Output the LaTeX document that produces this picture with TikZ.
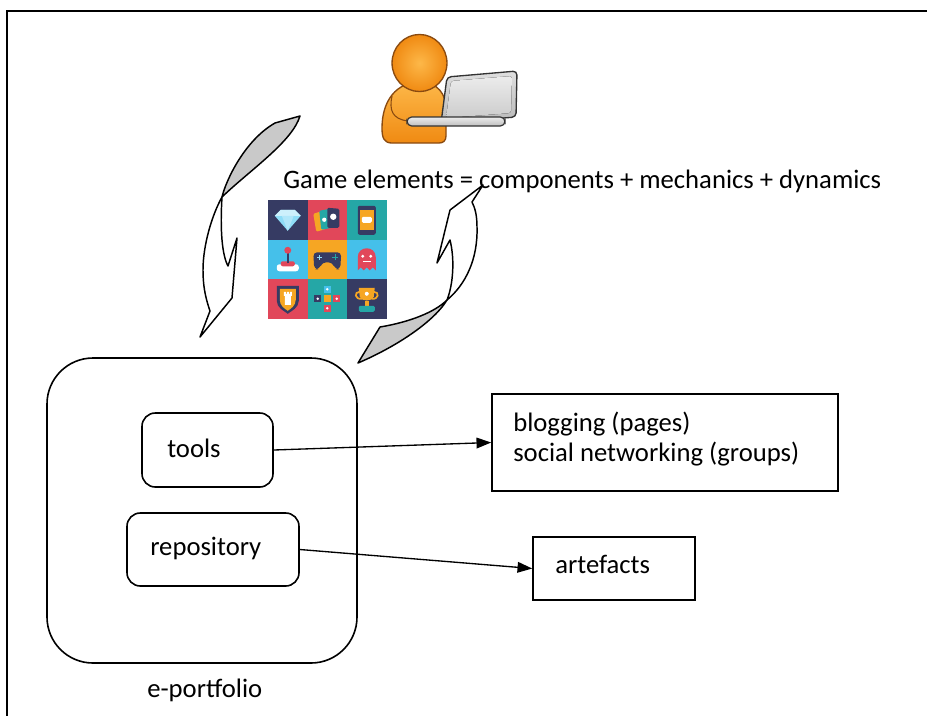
\documentclass[tikz,border=0pt]{standalone}
\usepackage{fontspec}
\setmainfont{Carlito}
\usetikzlibrary{arrows.meta}

\definecolor{personLight}{HTML}{FDB849}
\definecolor{personDark}{HTML}{F08A12}
\definecolor{personEdge}{HTML}{8A4A10}
\definecolor{twistGray}{HTML}{C9C9C9}
\definecolor{gNavy}{HTML}{363B63}
\definecolor{gRed}{HTML}{E1475A}
\definecolor{gTeal}{HTML}{25A7A6}
\definecolor{gSky}{HTML}{45C0EA}
\definecolor{gOrange}{HTML}{F6A623}
\definecolor{gIce}{HTML}{8FDDF8}

\begin{document}
\begin{tikzpicture}[x=0.75pt,y=-0.75pt,
  box/.style={draw=black, line width=1.2pt, inner sep=0pt},
  rbox/.style={box, rounded corners=10pt},
  lbl/.style={inner sep=0pt, anchor=base west, font=\fontsize{20}{23}\selectfont},
  conn/.style={line width=1pt, -{Triangle[length=11pt,width=8pt]}},
  twist/.style={draw=black, line width=1.1pt, line join=round},
]
\useasboundingbox (0,0) rectangle (927,715);
\clip (0,0) rectangle (927,715);
\fill[white] (0,0) rectangle (927,715);

% page frame
\draw[line width=1.3pt] (940,11) -- (7,11) -- (7,730);

% ---- user with laptop ----
\draw[draw=personEdge, line width=1pt, top color=personLight, bottom color=personDark]
  (392,143) .. controls (384,143) and (382,138) .. (382,128)
  .. controls (382,100) and (397,82) .. (420,82)
  .. controls (438,82) and (446,95) .. (446,108) -- (446,136)
  .. controls (446,141) and (443,143) .. (439,143) -- cycle;
\draw[personEdge, line width=0.8pt] (392,96) .. controls (389,110) and (392,119) .. (408,121);
\draw[draw=personEdge, line width=1pt, inner color=personLight, outer color=personDark]
  (419.5,63) ellipse [x radius=20.6pt, y radius=21.4pt];
\draw[draw=gray!40!black, line width=1pt, rounded corners=3pt, top color=gray!25, bottom color=gray!55]
  (447,77) -- (517,71) -- (516,117) -- (441,123) -- cycle;
\fill[top color=gray!15, bottom color=gray!40, rounded corners=2pt]
  (451,81) -- (512,76) -- (511,113) -- (446,118) -- cycle;
\draw[draw=gray!40!black, line width=0.9pt, rounded corners=3.5pt, top color=gray!15, bottom color=gray!50]
  (407,117) -- (505,117) -- (505,126) -- (407,126) -- cycle;

% ---- twisted cycle arrows ----
% left arrow: grey twisted tail, then white shaft and head
\filldraw[twist, fill=twistGray]
  (275,123) -- (300,116) .. controls (292,142) and (250,170) .. (222,197)
  .. controls (226,180) and (245,140) .. (275,123) -- cycle;
\filldraw[twist, fill=white]
  (222,197) .. controls (212,215) and (203,245) .. (203,270)
  .. controls (203,290) and (207,302) .. (210,311) -- (200,337) -- (232,298) -- (237,238)
  -- (228,266) .. controls (222,255) and (220,230) .. (222,197) -- cycle;
% right arrow: white head and shaft, then grey twisted tail
\filldraw[twist, fill=white]
  (483,185) -- (450,210) -- (437,263) -- (450,240)
  .. controls (455,260) and (453,285) .. (447,300)
  .. controls (465,285) and (478,260) .. (477,227)
  .. controls (477,215) and (475,208) .. (472,202) -- cycle;
\filldraw[twist, fill=twistGray]
  (447,300) .. controls (435,312) and (410,322) .. (380,327) -- (358,363)
  .. controls (400,345) and (435,320) .. (447,300) -- cycle;

% ---- game element icons (3x3 tiles) ----
\fill[gNavy]   (268,200) rectangle (307.5,239.5);
\fill[gRed]    (307.5,200) rectangle (347,239.5);
\fill[gTeal]   (347,200) rectangle (386.5,239.5);
\fill[gSky]    (268,239.5) rectangle (307.5,279);
\fill[gOrange] (307.5,239.5) rectangle (347,279);
\fill[gSky]    (347,239.5) rectangle (386.5,279);
\fill[gRed]    (268,279) rectangle (307.5,318.5);
\fill[gTeal]   (307.5,279) rectangle (347,318.5);
\fill[gNavy]   (347,279) rectangle (386.5,318.5);
% diamond
\begin{scope}[shift={(287.75,219.75)}]
  \fill[gIce] (-13,-4) -- (-7,-10) -- (7,-10) -- (13,-4) -- (0,11) -- cycle;
  \fill[white!55!gIce] (-13,-4) -- (-7,-10) -- (7,-10) -- (13,-4) -- cycle;
  \fill[white!30!gIce] (-6,-4) -- (6,-4) -- (0,11) -- cycle;
\end{scope}
% cards
\begin{scope}[shift={(327.25,219.75)}]
  \fill[gOrange, rounded corners=1pt] (-14,-6) -- (-4,-9) -- (-1,9) -- (-11,12) -- cycle;
  \fill[gTeal, rounded corners=1pt] (-8,-9) -- (3,-11) -- (5,8) -- (-6,10) -- cycle;
  \fill[gNavy, rounded corners=1pt] (0,-12) -- (12,-11) -- (12,8) -- (0,8) -- cycle;
  \fill[white] (6,-3) circle (2.4pt);
  \fill[white] (-3,0) circle (1.6pt);
\end{scope}
% tablet
\begin{scope}[shift={(366.75,219.75)}]
  \fill[gNavy, rounded corners=1.5pt] (-9,-14) rectangle (9,15);
  \fill[gOrange] (-7,-10) rectangle (7,10);
  \fill[white, rounded corners=1pt] (-5,-3) rectangle (5,3);
\end{scope}
% joystick
\begin{scope}[shift={(287.75,259.25)}]
  \fill[white, rounded corners=2pt] (-11,5) rectangle (11,12);
  \fill[gRed, rounded corners=1.5pt] (-7,2) rectangle (7,7);
  \draw[gNavy, line width=1.5pt] (0,4) -- (0,-8);
  \fill[gRed] (0,-9) circle (2.6pt);
\end{scope}
% gamepad
\begin{scope}[shift={(327.25,259.25)}]
  \fill[gNavy, rounded corners=3pt] (-14,-7) -- (14,-7) -- (13,10) -- (8,10) -- (5,3) -- (-5,3) -- (-8,10) -- (-13,10) -- cycle;
  \draw[gTeal, line width=0.8pt] (5,-2) -- (11,-2) (8,-5) -- (8,1);
  \draw[gIce, line width=0.8pt] (-10,-2) -- (-5,-2) (-7.5,-4.5) -- (-7.5,0.5);
\end{scope}
% ghost
\begin{scope}[shift={(366.75,259.25)}]
  \fill[gRed] (-9,11) -- (-9,-2) .. controls (-9,-14) and (9,-14) .. (9,-2) -- (9,11)
    -- (6,8) -- (3,11) -- (0,8) -- (-3,11) -- (-6,8) -- cycle;
  \fill[white] (-4,-3) circle (1.2pt) (4,-3) circle (1.2pt);
  \draw[white, line width=0.8pt] (-4,2) -- (4,2);
\end{scope}
% shield
\begin{scope}[shift={(287.75,298.75)}]
  \fill[gNavy] (-11,-13) -- (11,-13) -- (11,2) .. controls (11,9) and (4,12) .. (0,15)
    .. controls (-4,12) and (-11,9) .. (-11,2) -- cycle;
  \fill[gOrange] (-8,-10) -- (8,-10) -- (8,1) .. controls (8,7) and (3,10) .. (0,12)
    .. controls (-3,10) and (-8,7) .. (-8,1) -- cycle;
  \fill[white] (-4,-7) -- (-2,-7) -- (-2,-5) -- (-1,-5) -- (-1,-7) -- (1,-7) -- (1,-5)
    -- (2,-5) -- (2,-7) -- (4,-7) -- (4,-3) -- (3,-3) -- (3,6) -- (-3,6) -- (-3,-3) -- (-4,-3) -- cycle;
\end{scope}
% d-pad
\begin{scope}[shift={(327.25,298.75)}]
  \fill[gSky] (-3.5,-13) rectangle (3.5,-6);
  \fill[gNavy] (-13,-3.5) rectangle (-6,3.5);
  \fill[gOrange] (-3.5,-3.5) rectangle (3.5,3.5);
  \fill[gRed] (6,-3.5) rectangle (13,3.5);
  \fill[gRed] (-3.5,6) rectangle (3.5,13);
  \fill[white] (0,-9.5) circle (1pt) (-9.5,0) circle (1pt) (9.5,0) circle (1pt) (0,9.5) circle (1pt);
\end{scope}
% trophy
\begin{scope}[shift={(366.75,298.75)}]
  \draw[gOrange, line width=1.3pt] (-7,-7) .. controls (-13,-7) and (-12,1) .. (-5,0);
  \draw[gOrange, line width=1.3pt] (7,-7) .. controls (13,-7) and (12,1) .. (5,0);
  \fill[gOrange] (-8,-11) -- (8,-11) -- (7,-2) .. controls (6,3) and (-6,3) .. (-7,-2) -- cycle;
  \fill[gOrange] (-2,2) rectangle (2,7);
  \fill[gTeal, rounded corners=1pt] (-8,7) rectangle (8,13);
  \fill[white] (0,-5) circle (1.5pt);
\end{scope}

% ---- heading ----
\node[lbl] (game) at (283,188) {Game elements = components + mechanics + dynamics};

% ---- e-portfolio ----
\node[draw, line width=1.2pt, rounded corners=34.5pt, minimum width=232.5pt, minimum height=228.75pt] (port) at (202,510.5) {};
\node[rbox, minimum width=98.25pt, minimum height=55.5pt] (tools) at (207.5,450) {};
\node[rbox, minimum width=129pt, minimum height=54.75pt] (repo) at (213,549.5) {};
\node[box, minimum width=259.5pt, minimum height=72.75pt] (blog) at (665,442.5) {};
\node[box, minimum width=121.5pt, minimum height=47.25pt] (art) at (614,568.5) {};

\node[lbl] (toolsT) at (167,457) {tools};
\node[lbl] (repoT) at (150,555) {repository};
\node[lbl] (portT) at (147,697) {e-portfolio};
\node[lbl] (blogA) at (513,431) {blogging (pages)};
\node[lbl] (blogB) at (513,461) {social networking (groups)};
\node[lbl] (artT) at (555,573) {artefacts};

\draw[conn] (tools.east) -- (blog.west);
\draw[conn] (repo.east) -- (art.west);
\end{tikzpicture}
\end{document}
